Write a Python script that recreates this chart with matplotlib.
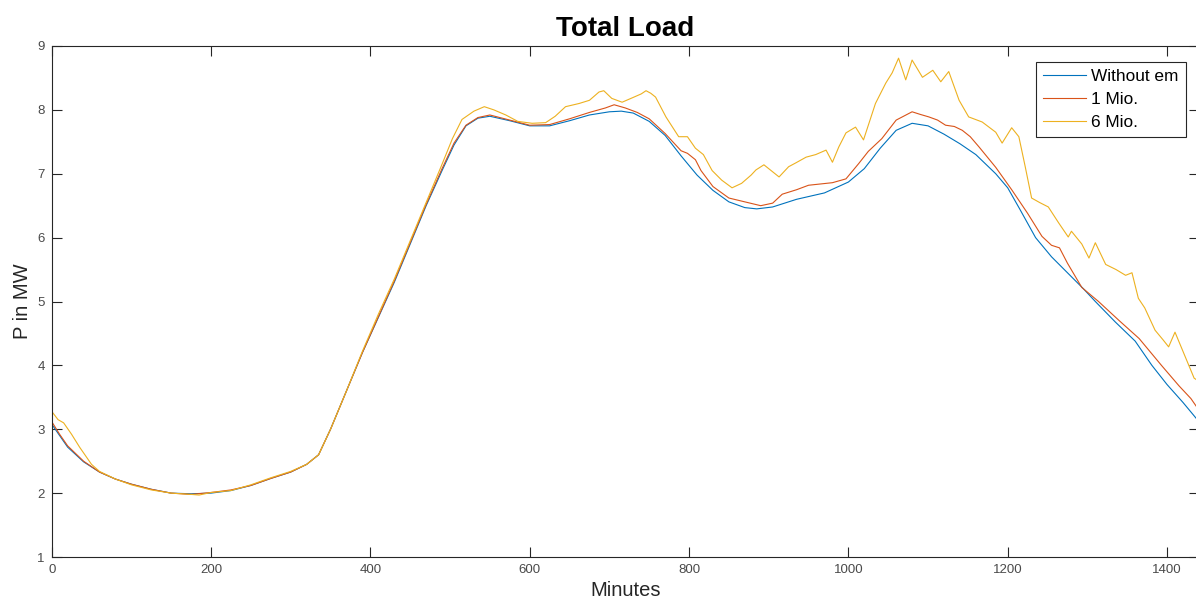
import matplotlib.pyplot as plt

# Total load over one day (minutes), three scenarios
t_base = [0, 10, 20, 40, 60, 80, 100, 125, 150, 175, 200, 225, 250, 275, 300,
          320, 335, 350, 370, 390, 410, 430, 450, 470, 490, 505, 520, 535, 550,
          575, 600, 625, 650, 675, 700, 715, 730, 750, 770, 790, 810, 830, 850,
          870, 885, 905, 935, 970, 1000, 1020, 1040, 1060, 1080, 1100, 1120,
          1140, 1160, 1185, 1200, 1215, 1235, 1255, 1275, 1295, 1310, 1335,
          1360, 1381, 1400, 1420, 1440]
p_base = [3.08, 2.9, 2.72, 2.49, 2.33, 2.22, 2.14, 2.06, 2.0, 1.99, 2.0, 2.04,
          2.12, 2.23, 2.33, 2.45, 2.6, 3.0, 3.6, 4.2, 4.75, 5.3, 5.9, 6.5, 7.05,
          7.45, 7.75, 7.87, 7.9, 7.83, 7.75, 7.75, 7.83, 7.92, 7.97, 7.98, 7.95,
          7.82, 7.6, 7.28, 6.98, 6.74, 6.56, 6.47, 6.45, 6.48, 6.6, 6.7, 6.87,
          7.08, 7.4, 7.68, 7.79, 7.75, 7.62, 7.47, 7.3, 7.0, 6.78, 6.45, 6.0,
          5.7, 5.45, 5.2, 5.0, 4.68, 4.38, 4.0, 3.7, 3.42, 3.12]

t_1mio = [0, 10, 20, 40, 60, 80, 100, 125, 150, 175, 200, 225, 250, 275, 300,
          320, 335, 350, 370, 390, 410, 430, 450, 470, 490, 505, 520, 535, 550,
          575, 600, 625, 650, 675, 695, 706, 720, 735, 750, 770, 790, 798, 808,
          815, 830, 850, 870, 890, 905, 917, 935, 950, 965, 980, 997, 1013,
          1025, 1042, 1060, 1080, 1090, 1101, 1112, 1122, 1133, 1143, 1153,
          1164, 1185, 1205, 1225, 1243, 1255, 1265, 1275, 1293, 1314, 1340,
          1365, 1393, 1415, 1430, 1440]
p_1mio = [3.12, 2.92, 2.74, 2.5, 2.33, 2.22, 2.14, 2.06, 2.0, 1.98, 2.01, 2.05,
          2.12, 2.23, 2.33, 2.45, 2.6, 3.0, 3.6, 4.2, 4.76, 5.32, 5.92, 6.52,
          7.08, 7.48, 7.76, 7.88, 7.92, 7.84, 7.76, 7.77, 7.86, 7.96, 8.03,
          8.08, 8.03, 7.96, 7.86, 7.63, 7.36, 7.32, 7.22, 7.05, 6.8, 6.62, 6.56,
          6.5, 6.54, 6.68, 6.75, 6.82, 6.84, 6.86, 6.92, 7.16, 7.35, 7.55, 7.84,
          7.97, 7.93, 7.89, 7.84, 7.76, 7.74, 7.68, 7.58, 7.42, 7.1, 6.75, 6.38,
          6.02, 5.88, 5.84, 5.6, 5.22, 5.0, 4.7, 4.42, 4.0, 3.68, 3.48, 3.3]

t_6mio = [0, 8, 15, 25, 35, 50, 60, 80, 100, 125, 150, 175, 185, 200, 225, 250,
          275, 300, 320, 335, 350, 370, 390, 410, 430, 450, 470, 490, 503, 515,
          530, 543, 555, 570, 585, 603, 620, 632, 645, 662, 675, 687, 693, 703,
          716, 729, 740, 746, 752, 758, 771, 787, 798, 808, 818, 829, 841, 854,
          866, 878, 884, 894, 903, 913, 925, 934, 947, 959, 972, 980, 988, 997,
          1009, 1019, 1034, 1047, 1055, 1063, 1072, 1080, 1093, 1106, 1116,
          1126, 1139, 1151, 1168, 1185, 1193, 1205, 1214, 1222, 1230, 1240,
          1251, 1264, 1276, 1280, 1293, 1302, 1310, 1323, 1336, 1348, 1356,
          1364, 1372, 1385, 1395, 1402, 1410, 1423, 1434, 1440]
p_6mio = [3.28, 3.15, 3.1, 2.92, 2.72, 2.45, 2.34, 2.22, 2.13, 2.05, 2.0, 1.98,
          1.97, 2.01, 2.04, 2.13, 2.24, 2.34, 2.45, 2.6, 3.0, 3.6, 4.22, 4.8,
          5.35, 5.95, 6.55, 7.15, 7.55, 7.85, 7.98, 8.05, 8.0, 7.92, 7.82, 7.79,
          7.8, 7.9, 8.05, 8.1, 8.15, 8.28, 8.3, 8.18, 8.12, 8.19, 8.25, 8.3,
          8.26, 8.2, 7.89, 7.58, 7.58, 7.4, 7.3, 7.05, 6.9, 6.78, 6.85, 6.98,
          7.06, 7.14, 7.05, 6.95, 7.11, 7.17, 7.26, 7.3, 7.37, 7.18, 7.42, 7.64,
          7.73, 7.53, 8.1, 8.42, 8.58, 8.81, 8.47, 8.78, 8.51, 8.62, 8.44, 8.6,
          8.15, 7.89, 7.81, 7.65, 7.48, 7.72, 7.58, 7.11, 6.62, 6.55, 6.48, 6.23,
          6.01, 6.1, 5.9, 5.68, 5.92, 5.58, 5.5, 5.41, 5.45, 5.05, 4.9, 4.55,
          4.4, 4.29, 4.52, 4.13, 3.8, 3.75]

labels = ['Without em', '1 Mio.', '6 Mio.']
colors = ['#0072BD', '#D95319', '#EDB120']

plt.rcParams['font.family'] = ['Liberation Sans', 'DejaVu Sans']

fig = plt.figure(figsize=(11.96, 6.10), dpi=100)
ax = fig.add_axes([51.7 / 1196, 53 / 610, 1147.2 / 1196, 511 / 610])

ax.plot(t_base, p_base, color=colors[0], lw=0.8, label=labels[0])
ax.plot(t_1mio, p_1mio, color=colors[1], lw=0.8, label=labels[1])
ax.plot(t_6mio, p_6mio, color=colors[2], lw=0.8, label=labels[2])

ax.set_xlim(0, 1440)
ax.set_ylim(1, 9)
ax.set_xticks(range(0, 1401, 200))
ax.set_yticks(range(1, 10))

axis_gray = '#262626'
for s in ax.spines.values():
    s.set_color(axis_gray)
    s.set_linewidth(0.8)
ax.tick_params(direction='in', length=7.5, width=0.8, color=axis_gray,
               labelcolor='#4a4a4a', labelsize=9.5, top=True, right=True,
               pad=5)

ax.set_title('Total Load', fontsize=20, fontweight='bold', color='black',
             pad=7)
ax.set_xlabel('Minutes', fontsize=14.5, color='#262626', labelpad=4)
ax.set_ylabel('P in MW', fontsize=14.5, color='#262626', labelpad=4)

leg = ax.legend(loc='upper right', bbox_to_anchor=(0.9888, 0.9687),
                borderaxespad=0, fontsize=12.4, fancybox=False,
                handlelength=2.5, handletextpad=0.3, labelspacing=0.45,
                borderpad=0.42, framealpha=1)
leg.get_frame().set_edgecolor(axis_gray)
leg.get_frame().set_linewidth(0.8)

fig.savefig('out.png', dpi=100)
